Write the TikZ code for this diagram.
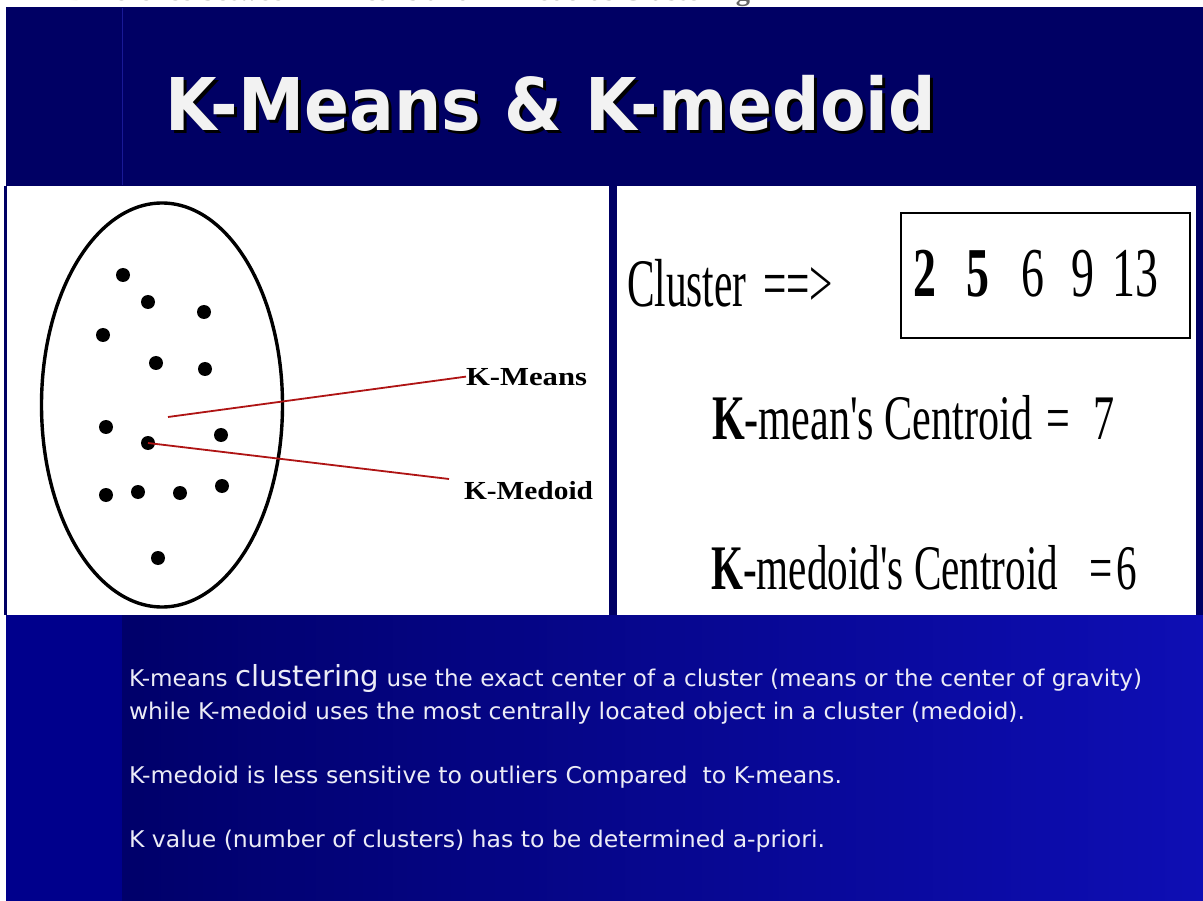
\documentclass[tikz,border=0pt]{standalone}
\usepackage{fontspec}
\usepackage{graphicx}
\setmainfont{Liberation Serif}
\newfontfamily\sansbody{DejaVu Sans}
\usetikzlibrary{calc}
\definecolor{navy}{RGB}{0,0,100}
\definecolor{leftblue}{RGB}{0,0,140}
\definecolor{botdark}{RGB}{0,0,106}
\definecolor{botbright}{RGB}{14,14,180}
\definecolor{linered}{RGB}{175,20,20}
\definecolor{titlewhite}{RGB}{242,242,242}
\definecolor{bodywhite}{RGB}{236,236,246}
\newcommand\fitw[2]{\resizebox{#1}{\height}{#2}}
\begin{document}
\begin{tikzpicture}[x=1pt,y=-1pt,
  txt/.style={inner sep=0pt, outer sep=0pt, anchor=base west},
  dot/.style={circle, fill=black, inner sep=0pt, minimum size=14pt},
  pointer/.style={draw=linered, line width=1.8pt},
  band/.style={fill=navy, draw=none},
  serifbig/.style={txt, text=black},
  bodytext/.style={txt, text=bodywhite}]
\useasboundingbox (0,0) rectangle (1203,901);
\fill[white] (0,0) rectangle (1203,901);

% cut-off heading at the very top
\begin{scope}
  \clip (0,0) rectangle (1203,7);
  \node[txt, text=black!60] (heading) at (67,0.5)
    {\fitw{683pt}{\bfseries\fontsize{28}{30}\selectfont Difference between K-Means and K-Medoids Clustering}};
\end{scope}

% bands
\path[band] (6,7) rectangle (1203,186);
\draw[draw={rgb,255:red,25;green,25;blue,150}, line width=1pt] (122,8) -- (122,185);
\fill[leftblue] (6,615) rectangle (122,901);
\shade[left color=botdark, right color=botbright] (122,615) rectangle (1203,901);
\path[band] (609,186) rectangle (617,615);
\path[band] (4,186) rectangle (7,615);
\path[band] (1196,186) rectangle (1203,615);

% title with shadow
\node[txt, text=black] (titleshadow) at (168,134)
  {\fitw{771pt}{\sansbody\bfseries\fontsize{72.7}{80}\selectfont K-Means \& K-medoid}};
\node[txt, text=titlewhite] (title) at (165,131)
  {\fitw{771pt}{\sansbody\bfseries\fontsize{72.7}{80}\selectfont K-Means \& K-medoid}};

% cluster ellipse and points
\draw[line width=3.4pt] (162,405) ellipse [x radius=120.5pt, y radius=202pt];
\node[dot] (d1) at (123,275) {};
\node[dot] (d2) at (148,302) {};
\node[dot] (d3) at (204,312) {};
\node[dot] (d4) at (103,335) {};
\node[dot] (d5) at (156,363) {};
\node[dot] (d6) at (205,369) {};
\node[dot] (d7) at (106,427) {};
\node[dot] (d8) at (148,443) {};
\node[dot] (d9) at (221,435) {};
\node[dot] (d10) at (106,495) {};
\node[dot] (d11) at (138,492) {};
\node[dot] (d12) at (180,493) {};
\node[dot] (d13) at (222,486) {};
\node[dot] (d14) at (158,558) {};

% labels and pointer lines
\node[serifbig] (kmlab) at (466,385)
  {\fitw{121pt}{\bfseries\fontsize{26}{28}\selectfont K-Means}};
\node[serifbig] (kmedlab) at (464,499)
  {\fitw{129pt}{\bfseries\fontsize{26}{28}\selectfont K-Medoid}};
\coordinate (kmstart) at (168,417);
\coordinate (kmedend) at (449,479);
\draw[pointer] (kmstart) -- (kmlab.west);
\draw[pointer] (d8.center) -- (kmedend);

% right panel
\node[serifbig] (cluster) at (627,307)
  {\fitw{206pt}{\fontsize{68}{72}\selectfont Cluster\hspace{0.4em}==>}};
\node[draw=black, line width=1.8pt, minimum width=289pt, minimum height=125pt,
      inner sep=0pt, anchor=north west] (box) at (900,212) {};
\node[serifbig] (nums) at (913,297)
  {\fitw{245pt}{\fontsize{70}{72}\selectfont\textbf{2}\hspace{0.66em}\textbf{5}\hspace{0.71em}6\hspace{0.59em}9\hspace{0.38em}13}};
\node[serifbig] (kmean) at (712,440)
  {\fitw{403pt}{\fontsize{63.5}{68}\selectfont\textbf{K}-mean\textquotesingle s Centroid\hspace{0.35em}=\hspace{0.55em}7}};
\node[serifbig] (kmedoid) at (711,589)
  {\fitw{426pt}{\fontsize{63.5}{68}\selectfont\textbf{K}-medoid\textquotesingle s Centroid\hspace{0.75em}=\hspace{0.1em}6}};

% bottom text
\node[bodytext] (b1) at (129,686)
  {\fitw{1013pt}{\sansbody\fontsize{23}{26}\selectfont K-means {\fontsize{29}{30}\selectfont clustering} use the exact center of a cluster (means or the center of gravity)}};
\node[bodytext] (b2) at (129,719)
  {\fitw{896pt}{\sansbody\fontsize{23}{26}\selectfont while K-medoid uses the most centrally located object in a cluster (medoid).}};
\node[bodytext] (b3) at (129,783)
  {\fitw{713pt}{\sansbody\fontsize{23}{26}\selectfont K-medoid is less sensitive to outliers Compared\ \ to K-means.}};
\node[bodytext] (b4) at (129,847)
  {\fitw{696pt}{\sansbody\fontsize{23}{26}\selectfont K value (number of clusters) has to be determined a-priori.}};
\end{tikzpicture}
\end{document}
